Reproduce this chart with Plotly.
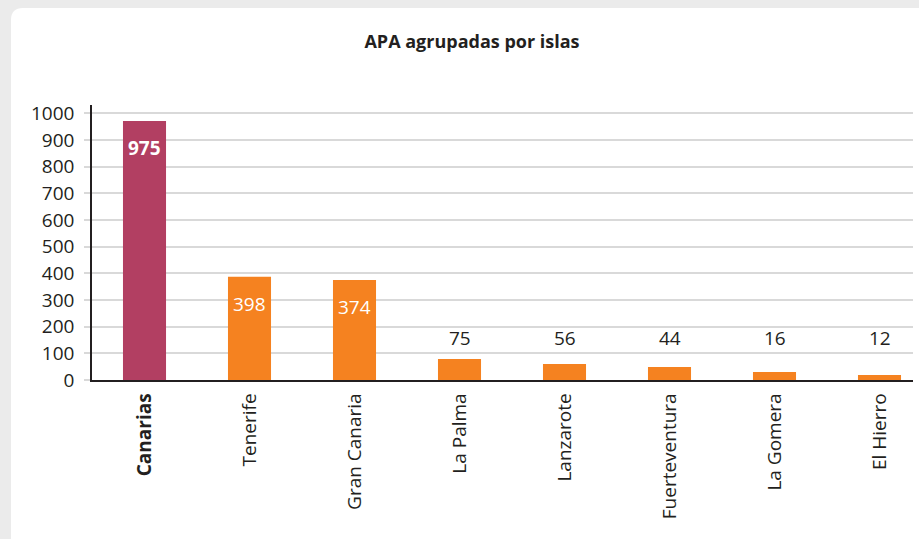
import plotly.graph_objects as go

# ---- data ----
categories = ["Canarias", "Tenerife", "Gran Canaria", "La Palma", "Lanzarote",
              "Fuerteventura", "La Gomera", "El Hierro"]
tick_labels = ["<b>Canarias</b>", "Tenerife", "Gran Canaria", "La Palma", "Lanzarote",
               "Fuerteventura", "La Gomera", "El Hierro"]
value_labels = [975, 398, 374, 75, 56, 44, 16, 12]
bar_heights = [971, 387, 375, 79, 60, 49, 30, 19]   # heights as drawn in the picture
y_ticks = list(range(0, 1001, 100))

C_TOTAL = "#b23f62"
C_ISLAND = "#f58220"
TXT = "#231f20"
FONT = "Open Sans"

colors = [C_TOTAL] + [C_ISLAND] * (len(categories) - 1)

fig = go.Figure()
fig.add_trace(go.Bar(
    x=list(range(len(categories))), y=bar_heights,
    marker=dict(color=colors, line=dict(width=0)),
    width=0.41, hoverinfo="skip",
))

# value labels
for i, (v, h) in enumerate(zip(value_labels, bar_heights)):
    if h > 200:
        fig.add_annotation(x=i, y=h, xref="x", yref="y", text=(f"<b>{v}</b>" if i == 0 else str(v)),
                           showarrow=False, yanchor="top", yshift=-12,
                           font=dict(family=FONT, size=19, color="white"))
    else:
        fig.add_annotation(x=i, y=157, xref="x", yref="y", text=str(v),
                           showarrow=False, yanchor="middle",
                           font=dict(family=FONT, size=19, color=TXT))

# card background (rounded white panel on grey page)
L, T, R, B = 92, 105, 913, 380  # plot area in px
def px(x):
    return (x - L) / (R - L)
def py(y):
    return (B - y) / (B - T)
r = 12
path = (f"M {px(11)},{py(545)} L {px(11)},{py(8 + r)} "
        f"Q {px(11)},{py(8)} {px(11 + r)},{py(8)} "
        f"L {px(940)},{py(8)} L {px(940)},{py(545)} Z")
fig.add_shape(type="path", path=path, xref="paper", yref="paper",
              fillcolor="white", line=dict(width=0), layer="below")

fig.update_layout(
    width=919, height=539, autosize=False,
    margin=dict(l=L, r=919 - R, t=T, b=539 - B, pad=0),
    paper_bgcolor="#ebebeb", plot_bgcolor="rgba(0,0,0,0)",
    showlegend=False,
    font=dict(family=FONT, color=TXT, size=19),
    title=dict(text="<b>APA agrupadas por islas</b>", x=472 / 919, xanchor="center",
               y=1 - 42 / 539, yanchor="middle", xref="container", yref="container",
               font=dict(family=FONT, size=18, color=TXT)),
    xaxis=dict(
        range=[-0.5, 7.319], tickmode="array", tickvals=list(range(len(categories))),
        ticktext=tick_labels, tickangle=-90, showgrid=False, zeroline=False,
        showline=True, linecolor=TXT, linewidth=1.5, ticks="", ticklabelstandoff=4,
        tickfont=dict(family=FONT, size=19, color=TXT),
    ),
    yaxis=dict(
        range=[0, 1031], tickmode="array", tickvals=y_ticks,
        showgrid=True, gridcolor="#d9d9d9", gridwidth=1.5, zeroline=False,
        showline=True, linecolor=TXT, linewidth=1.5,
        ticks="outside", ticklen=6, tickcolor="#d9d9d9", tickwidth=1.5,
        ticklabelstandoff=6,
        tickfont=dict(family=FONT, size=19, color=TXT),
    ),
)

fig.write_html("out.html", config={"displayModeBar": False},
               post_script="document.body.style.margin='0';")
